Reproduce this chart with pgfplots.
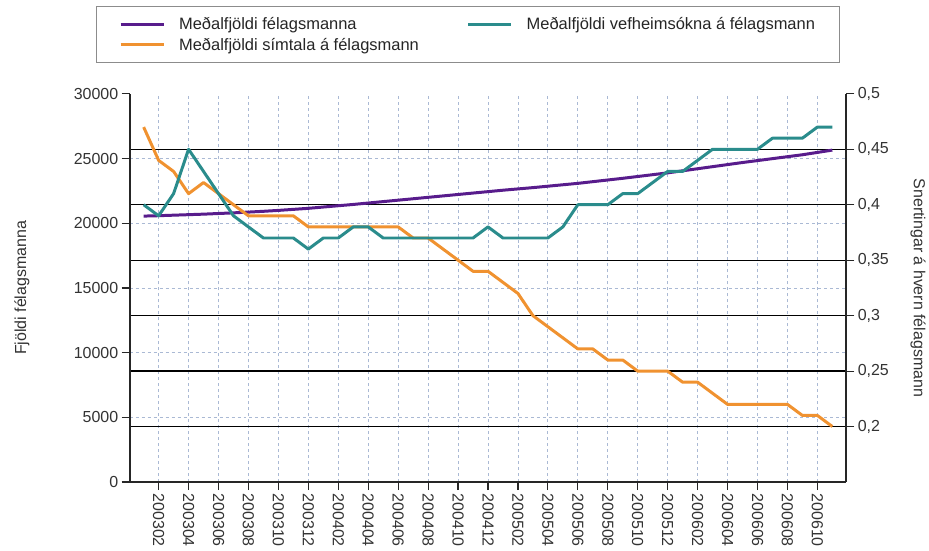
\documentclass[border=0pt]{standalone}
\usepackage{fontspec}
\setmainfont{Liberation Sans}
\usepackage{pgfplots}
\pgfplotsset{compat=1.18}
\definecolor{cPurple}{RGB}{88,28,140}
\definecolor{cOrange}{RGB}{240,146,48}
\definecolor{cTeal}{RGB}{42,140,140}
\definecolor{cGrid}{RGB}{170,185,212}
\begin{document}
\begin{tikzpicture}
\pgfplotsset{set layers}
\begin{axis}[
  at={(0pt,0pt)}, anchor=south west, scale only axis, width=718pt, height=389pt,
  xmin=-0.93, xmax=46.93, ymin=0, ymax=30000,
  axis x line*=bottom, axis y line*=left,
  axis line style={line width=1.6pt, black!85, -},
  xtick={1,3,...,45},
  xticklabels={200302,200304,200306,200308,200310,200312,200402,200404,200406,200408,200410,200412,200502,200504,200506,200508,200510,200512,200602,200604,200606,200608,200610},
  ytick={0,5000,10000,15000,20000,25000},
  extra y ticks={30000}, extra y tick style={grid=none},
  grid=major, major grid style={dashed, cGrid, line width=0.8pt},
  tick align=outside, major tick length=8pt, tick style={black!85, line width=1.2pt},
  x tick label style={rotate=-90, anchor=west},
  tick label style={font=\fontsize{16}{19}\selectfont, text=black!80},
  /pgf/number format/assume math mode=true,
  /pgf/number format/1000 sep={},
  scaled y ticks=false,
  ylabel={Fjöldi félagsmanna},
  every axis y label/.style={at={(axis description cs:-0.1504,0.5)}, rotate=90, anchor=center,
    font=\fontsize{16}{19}\selectfont, text=black!80},
]
\addplot[cPurple, line width=3pt, line join=round] coordinates {
(0,20550)(1,20580)(2,20620)(3,20660)(4,20700)(5,20750)(6,20800)(7,20860)(8,20920)(9,20990)
(10,21070)(11,21150)(12,21250)(13,21350)(14,21450)(15,21560)(16,21670)(17,21780)(18,21890)(19,22000)
(20,22110)(21,22220)(22,22330)(23,22440)(24,22550)(25,22650)(26,22750)(27,22860)(28,22970)(29,23080)
(30,23210)(31,23340)(32,23470)(33,23610)(34,23750)(35,23890)(36,24050)(37,24210)(38,24370)(39,24530)
(40,24690)(41,24840)(42,24990)(43,25140)(44,25290)(45,25470)(46,25650)};
\end{axis}
\begin{axis}[
  at={(0pt,0pt)}, anchor=south west, scale only axis, width=718pt, height=389pt,
  xmin=-0.93, xmax=46.93, ymin=0.15, ymax=0.5,
  axis y line*=right, axis x line=none,
  axis line style={line width=1.6pt, black!85, -},
  xtick=\empty,
  ytick={0.2,0.25,0.3,0.35,0.4,0.45},
  extra y ticks={0.5}, extra y tick style={grid=none},
  ymajorgrids, major grid style={black, line width=1.3pt},
  tick align=outside, major tick length=8pt, tick style={black!85, line width=1.2pt},
  tick label style={font=\fontsize{16}{19}\selectfont, text=black!80},
  /pgf/number format/assume math mode=true,
  /pgf/number format/use comma,
  ylabel={Snertingar á hvern félagsmann},
  every axis y label/.style={at={(axis description cs:1.1003,0.5)}, rotate=-90, anchor=center,
    font=\fontsize{16}{19}\selectfont, text=black!80},
  legend columns=2,
  legend cell align=left,
  legend image code/.code={\draw[#1] (0pt,0pt) -- (43pt,0pt);},
  legend style={at={(axis description cs:-0.0474,1.2262)}, anchor=north west,
    draw=black!45, line width=1pt, fill=white,
    inner xsep=23pt, inner ysep=10pt, row sep=5pt,
    font=\fontsize{16.5}{19}\selectfont, text=black!85,
    nodes={inner xsep=2pt, inner ysep=1pt},
    /tikz/every odd column/.append style={column sep=12pt},
    /tikz/every even column/.append style={column sep=46pt}},
]
\addlegendimage{cPurple, line width=3pt}
\addlegendentry{Meðalfjöldi félagsmanna}
\addlegendimage{cTeal, line width=3pt}
\addlegendentry{Meðalfjöldi vefheimsókna á félagsmann}
\addlegendimage{cOrange, line width=3pt}
\addlegendentry{Meðalfjöldi símtala á félagsmann}
\addplot[cOrange, line width=3pt, line join=round, forget plot] coordinates {
(0,0.47)(1,0.44)(2,0.43)(3,0.41)(4,0.42)(5,0.41)(6,0.40)(7,0.39)(8,0.39)(9,0.39)
(10,0.39)(11,0.38)(12,0.38)(13,0.38)(14,0.38)(15,0.38)(16,0.38)(17,0.38)(18,0.37)(19,0.37)
(20,0.36)(21,0.35)(22,0.34)(23,0.34)(24,0.33)(25,0.32)(26,0.30)(27,0.29)(28,0.28)(29,0.27)
(30,0.27)(31,0.26)(32,0.26)(33,0.25)(34,0.25)(35,0.25)(36,0.24)(37,0.24)(38,0.23)(39,0.22)
(40,0.22)(41,0.22)(42,0.22)(43,0.22)(44,0.21)(45,0.21)(46,0.20)};
\addplot[cTeal, line width=3pt, line join=round, forget plot] coordinates {
(0,0.40)(1,0.39)(2,0.41)(3,0.45)(4,0.43)(5,0.41)(6,0.39)(7,0.38)(8,0.37)(9,0.37)
(10,0.37)(11,0.36)(12,0.37)(13,0.37)(14,0.38)(15,0.38)(16,0.37)(17,0.37)(18,0.37)(19,0.37)
(20,0.37)(21,0.37)(22,0.37)(23,0.38)(24,0.37)(25,0.37)(26,0.37)(27,0.37)(28,0.38)(29,0.40)
(30,0.40)(31,0.40)(32,0.41)(33,0.41)(34,0.42)(35,0.43)(36,0.43)(37,0.44)(38,0.45)(39,0.45)
(40,0.45)(41,0.45)(42,0.46)(43,0.46)(44,0.46)(45,0.47)(46,0.47)};
\end{axis}
\path (-130pt,-67pt) rectangle (799pt,483pt);
\end{tikzpicture}
\end{document}
